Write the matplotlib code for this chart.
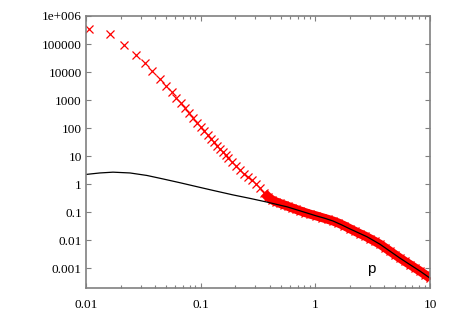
import numpy as np
import matplotlib
matplotlib.use('Agg')
import matplotlib.pyplot as plt
from matplotlib.ticker import LogLocator, NullLocator, FixedLocator, FixedFormatter

# puntos rojos
red_x = [0.0107, 0.0162, 0.0216, 0.0273, 0.0328, 0.0380, 0.0442, 0.0497, 0.0557,
         0.0613, 0.0674, 0.0730, 0.0796, 0.0863, 0.0935, 0.1007, 0.1075, 0.1151,
         0.1230, 0.1307, 0.1396, 0.1483, 0.1575, 0.1663, 0.1742,
         0.1876, 0.2033, 0.2203, 0.2386, 0.2587, 0.2803, 0.3038, 0.3292, 0.3567,
         0.3866, 0.4189, 0.4538, 0.4918, 0.5329, 0.5775, 0.6258, 0.6781, 0.7349,
         0.8125, 0.8982, 1.0134, 1.1435, 1.2895, 1.4256, 1.576, 1.778, 2.006,
         2.218, 2.452, 2.711, 2.997, 3.314, 3.664, 4.051, 4.479, 4.951, 5.474,
         6.052, 6.691, 7.398, 8.179, 9.046, 10.0]
red_y = [3.45e5, 2.3e5, 9.5e4, 4.1e4, 2.1e4, 1.08e4, 5.7e3, 3.2e3, 1.91e3,
         1.19e3, 778, 508, 337, 224, 154, 107, 77.3, 55.7,
         42.6, 31.4, 24.0, 18.3, 14.3, 10.9, 9.0,
         6.22, 4.31, 3.24, 2.33, 1.75, 1.37, 0.986, 0.711, 0.492,
         0.355, 0.277, 0.236, 0.208, 0.1845, 0.163, 0.144, 0.1276, 0.113,
         0.0982, 0.0861, 0.0750, 0.0647, 0.0560, 0.0490, 0.0420, 0.0335, 0.0259,
         0.0211, 0.0172, 0.01426, 0.01143, 0.00916, 0.00728, 0.00547, 0.00410,
         0.00308, 0.00232, 0.00177, 0.00136, 0.00104, 0.00080, 0.00060, 0.000451]

# curva negra
line_x = [0.01, 0.0132, 0.0172, 0.0242, 0.034, 0.0469, 0.066, 0.0987, 0.128,
          0.191, 0.269, 0.378, 0.566, 0.735, 1.013, 1.2, 1.426, 1.7, 2.006, 2.82,
          3.66, 4.48, 5.47, 6.69, 8.18, 10.0]
line_y = [2.24, 2.53, 2.70, 2.53, 2.06, 1.55, 1.135, 0.773, 0.605,
          0.418, 0.314, 0.232, 0.157, 0.113, 0.075, 0.0618, 0.0490, 0.0355, 0.0255,
          0.01345, 0.00728, 0.0041, 0.00232, 0.00136, 0.0008, 0.000451]

yticks = [1e-3, 1e-2, 1e-1, 1, 10, 100, 1e3, 1e4, 1e5, 1e6]
ylabels = ['0.001', '0.01', '0.1', '1', '10', '100', '1000', '10000', '100000', '1e+006']
xticks = [0.01, 0.1, 1, 10]
xlabels = ['0.01', '0.1', '1', '10']

plt.rcParams['font.family'] = ['Liberation Serif', 'DejaVu Serif']

fig = plt.figure(figsize=(4.54, 3.18), dpi=100)
ax = fig.add_axes([86/454, 30/318, 344/454, 272/318])

rx = np.array(red_x)
ry = np.array(red_y)
band = rx >= 0.35
# banda densa de marcadores
ax.plot(rx[band], ry[band], '-', color='red', lw=6.5, solid_capstyle='butt')
ax.plot(rx, ry, 'x', color='red', ms=6, mew=0.9)
ax.plot(line_x, line_y, '-', color='black', lw=0.9)

ax.set_xscale('log')
ax.set_yscale('log')
ax.set_xlim(0.01, 10)
ax.set_ylim(2e-4, 1e6)

ax.yaxis.set_major_locator(FixedLocator(yticks))
ax.yaxis.set_major_formatter(FixedFormatter(ylabels))
ax.yaxis.set_minor_locator(NullLocator())
ax.xaxis.set_major_locator(FixedLocator(xticks))
ax.xaxis.set_major_formatter(FixedFormatter(xlabels))
ax.xaxis.set_minor_locator(LogLocator(base=10, subs=np.arange(2, 10)))

gray = '#808080'
for s in ax.spines.values():
    s.set_color(gray)
    s.set_linewidth(1.2)
ax.tick_params(which='both', direction='in', top=True, right=True, color=gray, labelsize=9.5)
ax.tick_params(which='major', length=3.5, width=0.8)
ax.tick_params(which='minor', length=2, width=0.8)
ax.tick_params(axis='x', pad=8)
ax.tick_params(axis='y', pad=3)

ax.text(0.828, 0.07, 'p', transform=ax.transAxes, ha='center', va='center',
        fontsize=11, family=['Liberation Sans', 'DejaVu Sans'])

fig.savefig('out.png', dpi=100)
